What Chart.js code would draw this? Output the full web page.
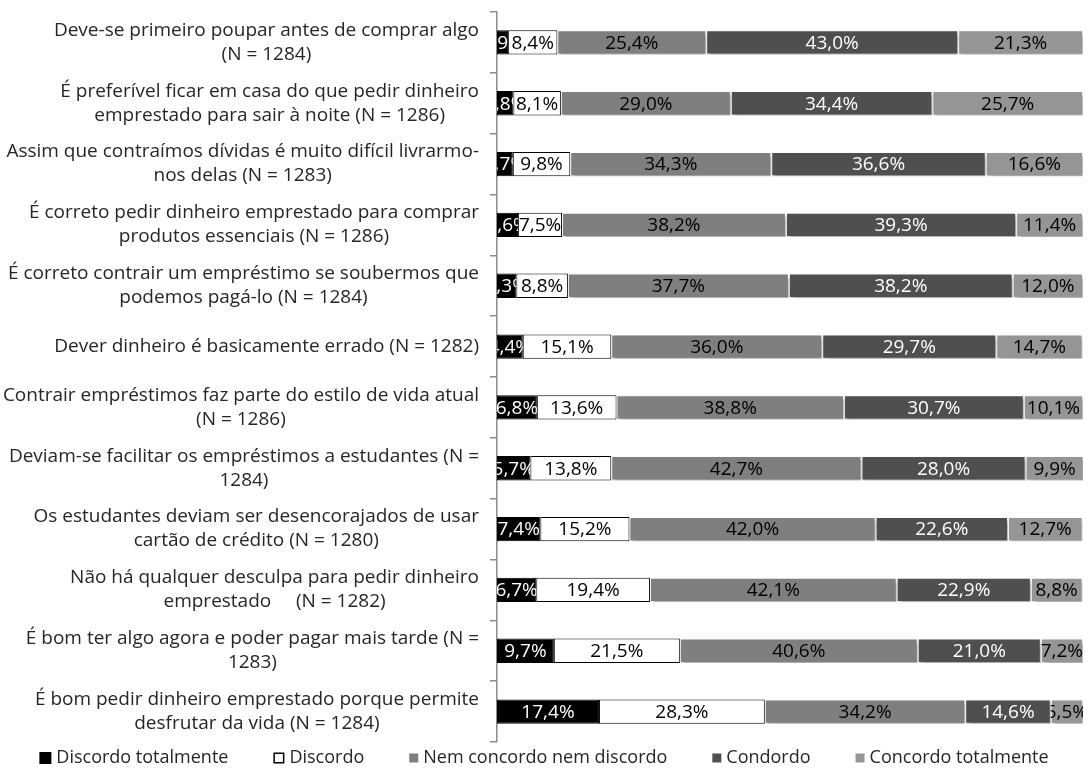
<!DOCTYPE html>
<html lang="pt">
<head>
<meta charset="utf-8">
<title>Atitudes face ao crédito</title>
<script src="https://cdn.jsdelivr.net/npm/chart.js@4.4.1/dist/chart.umd.min.js"></script>
<style>
  html, body { margin: 0; padding: 0; background: #fff; }
  #contenedor { position: relative; width: 1088px; height: 769px; }
</style>
</head>
<body>
<div id="contenedor"><canvas id="barChart"></canvas></div>
<script>
// datos (%)
const categorias = [
    ['Deve-se primeiro poupar antes de comprar algo', '(N = 1284)'],
    ['É preferível ficar em casa do que pedir dinheiro', 'emprestado para sair à noite (N = 1286)'],
    ['Assim que contraímos dívidas é muito difícil livrarmo-', 'nos delas (N = 1283)'],
    ['É correto pedir dinheiro emprestado para comprar', 'produtos essenciais (N = 1286)'],
    ['É correto contrair um empréstimo se soubermos que', 'podemos pagá-lo (N = 1284)'],
    'Dever dinheiro é basicamente errado (N = 1282)',
    ['Contrair empréstimos faz parte do estilo de vida atual', '(N = 1286)'],
    ['Deviam-se facilitar os empréstimos a estudantes (N =', '1284)'],
    ['Os estudantes deviam ser desencorajados de usar', 'cartão de crédito (N = 1280)'],
    ['Não há qualquer desculpa para pedir dinheiro', 'emprestado     (N = 1282)'],
    ['É bom ter algo agora e poder pagar mais tarde (N =', '1283)'],
    ['É bom pedir dinheiro emprestado porque permite', 'desfrutar da vida (N = 1284)']
]

const series = ['Discordo totalmente', 'Discordo', 'Nem concordo nem discordo', 'Condordo', 'Concordo totalmente']

const discordo_totalmente = [1.9, 2.8, 2.7, 3.6, 3.3, 4.4, 6.8, 5.7, 7.4, 6.7, 9.7, 17.4]
const discordo = [8.4, 8.1, 9.8, 7.5, 8.8, 15.1, 13.6, 13.8, 15.2, 19.4, 21.5, 28.3]
const nem_concordo = [25.4, 29.0, 34.3, 38.2, 37.7, 36.0, 38.8, 42.7, 42.0, 42.1, 40.6, 34.2]
const concordo = [43.0, 34.4, 36.6, 39.3, 38.2, 29.7, 30.7, 28.0, 22.6, 22.9, 21.0, 14.6]
const concordo_totalmente = [21.3, 25.7, 16.6, 11.4, 12.0, 14.7, 10.1, 9.9, 12.7, 8.8, 7.2, 5.5]

const colores = ['#000000', '#ffffff', '#7f7f7f', '#4f4f4f', '#959595']
const bordes = ['#000000', '#000000', '#ffffff', '#ffffff', '#ffffff']
const colores_texto = ['#ffffff', '#000000', '#000000', '#ffffff', '#000000']

const fuente = '"Open Sans", sans-serif'

function formato(valor) {
    return valor.toFixed(1).replace('.', ',') + '%'
}

// sombra debajo de las barras grises
const sombra = {
    id: 'sombra',
    beforeDatasetDraw(chart, args) {
        if (args.index < 2) return
        const ctx = chart.ctx
        ctx.save()
        ctx.shadowColor = 'rgba(0, 0, 0, 0.35)'
        ctx.shadowBlur = 4
        ctx.shadowOffsetX = 2
        ctx.shadowOffsetY = 3
    },
    afterDatasetDraw(chart, args) {
        if (args.index < 2) return
        chart.ctx.restore()
    }
}

// porcentajes dentro de cada barra, recortados al tamaño de la barra
const etiquetas_barras = {
    id: 'etiquetas_barras',
    afterDatasetsDraw(chart) {
        const ctx = chart.ctx
        ctx.save()
        ctx.font = '19px ' + fuente
        ctx.textAlign = 'center'
        ctx.textBaseline = 'middle'
        chart.data.datasets.forEach((ds, d) => {
            const meta = chart.getDatasetMeta(d)
            meta.data.forEach((barra, i) => {
                const p = barra.getProps(['x', 'y', 'base', 'height'], true)
                const izq = Math.min(p.base, p.x)
                const der = Math.max(p.base, p.x)
                ctx.save()
                ctx.beginPath()
                ctx.rect(izq, p.y - p.height / 2, der - izq, p.height)
                ctx.clip()
                ctx.fillStyle = colores_texto[d]
                ctx.fillText(formato(ds.data[i]), (izq + der) / 2, p.y + 1)
                ctx.restore()
            })
        })
        ctx.restore()
    }
}

// textos del eje: bloque alineado a la derecha, líneas centradas
const etiquetas_eje = {
    id: 'etiquetas_eje',
    afterDraw(chart) {
        const ctx = chart.ctx
        const escala = chart.scales.y
        ctx.save()
        ctx.font = '19px ' + fuente
        ctx.fillStyle = '#262626'
        ctx.textAlign = 'center'
        ctx.textBaseline = 'middle'
        chart.data.labels.forEach((label, i) => {
            const lineas = Array.isArray(label) ? label : [label]
            const ancho = Math.max(...lineas.map(l => ctx.measureText(l).width))
            const x = escala.right - 18 - ancho / 2
            const centro = escala.getPixelForValue(i)
            lineas.forEach((l, k) => {
                ctx.fillText(l, x, centro + (k - (lineas.length - 1) / 2) * 24)
            })
        })
        ctx.restore()
    }
}

// leyenda abajo
const leyenda = {
    id: 'leyenda',
    afterDraw(chart) {
        const ctx = chart.ctx
        ctx.save()
        ctx.font = '18px ' + fuente
        ctx.textBaseline = 'middle'
        const cajas = [12, 11, 9, 9, 9]
        const sep = 5
        const hueco = 45
        const anchos = chart.data.datasets.map((ds, d) => cajas[d] + sep + ctx.measureText(ds.label).width)
        const total = anchos.reduce((a, b) => a + b, 0) + hueco * (anchos.length - 1)
        let x = (chart.width - total) / 2
        const y = chart.chartArea.bottom + 16
        chart.data.datasets.forEach((ds, d) => {
            const caja = cajas[d]
            ctx.fillStyle = colores[d]
            ctx.fillRect(x, y - caja / 2, caja, caja)
            if (d === 1) {
                ctx.strokeStyle = '#000'
                ctx.lineWidth = 1.5
                ctx.strokeRect(x + 0.75, y - caja / 2 + 0.75, caja - 1.5, caja - 1.5)
            }
            ctx.fillStyle = '#262626'
            ctx.fillText(ds.label, x + caja + sep, y)
            x += anchos[d] + hueco
        })
        ctx.restore()
    }
}

function dibujar_grafico() {
    const valores = [discordo_totalmente, discordo, nem_concordo, concordo, concordo_totalmente]

    const config = {
        type: 'bar',
        data: {
            labels: categorias,
            datasets: series.map((nombre, d) => ({
                label: nombre,
                data: valores[d],
                backgroundColor: colores[d],
                borderColor: bordes[d],
                borderWidth: 1,
                borderSkipped: false,
                barPercentage: 0.4,
                categoryPercentage: 1
            }))
        },
        options: {
            indexAxis: 'y',
            responsive: true,
            maintainAspectRatio: false,
            animation: false,
            layout: {
                padding: { top: 12, right: 5, bottom: 27, left: 0 }
            },
            plugins: {
                legend: { display: false },
                tooltip: { enabled: false }
            },
            scales: {
                x: {
                    stacked: true,
                    min: 0,
                    max: 100,
                    display: false
                },
                y: {
                    stacked: true,
                    ticks: { display: false },
                    grid: {
                        drawOnChartArea: false,
                        offset: true,
                        tickLength: 7,
                        color: '#8c8c8c',
                        lineWidth: 1.5
                    },
                    border: { color: '#8c8c8c', width: 1.5 },
                    afterFit: escala => { escala.width = 497 }
                }
            }
        },
        plugins: [sombra, etiquetas_barras, etiquetas_eje, leyenda]
    }

    const ctx = document.getElementById('barChart').getContext('2d')
    new Chart(ctx, config)
}

document.addEventListener('DOMContentLoaded', () => {
    Chart.defaults.font.family = fuente
    dibujar_grafico()
})
</script>
</body>
</html>
